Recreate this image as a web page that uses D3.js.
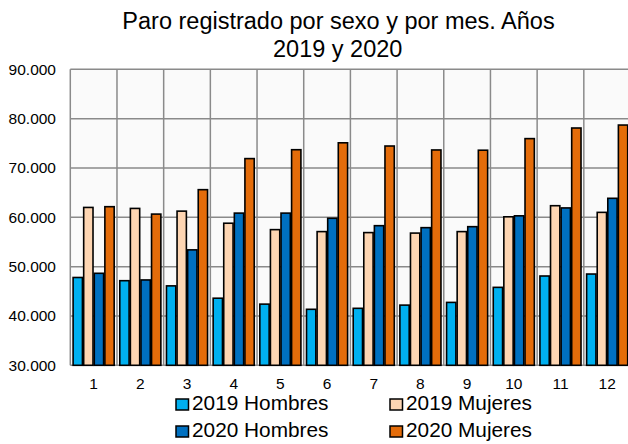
<!DOCTYPE html>
<html>
<head>
<meta charset="utf-8">
<script src="https://cdn.jsdelivr.net/npm/d3@7"></script>
<style>
  body { margin: 0; background: #fff; }
  svg { display: block; font-family: "Liberation Sans", Arial, sans-serif; }
</style>
</head>
<body>
<div id="chart"></div>
<script>
const width = 628;
const height = 444;

// Datos
const months = ["1", "2", "3", "4", "5", "6", "7", "8", "9", "10", "11", "12"];
const series = ["2019 Hombres", "2019 Mujeres", "2020 Hombres", "2020 Mujeres"];
const hombres2019 = [47800, 47150, 46100, 43600, 42400, 41350, 41550, 42200, 42750, 45800, 48100, 48500];
const mujeres2019 = [62000, 61800, 61250, 58800, 57500, 57100, 56900, 56800, 57100, 60100, 62350, 61000];
const hombres2020 = [48650, 47300, 53400, 60850, 60850, 59800, 58300, 57900, 58100, 60300, 61900, 63850];
const mujeres2020 = [62150, 60650, 65600, 71900, 73700, 75100, 74450, 73650, 73600, 75950, 78100, 78700];
const yTicks = [30000, 40000, 50000, 60000, 70000, 80000, 90000];
const colors = ["#00b0f0", "#fdd5b2", "#0070c0", "#e46c0a"];

const values = [hombres2019, mujeres2019, hombres2020, mujeres2020];
const rows = months.map((m, i) => ({ month: m, vals: values.map(v => v[i]) }));

const margin = { top: 69.3, right: -2.5, bottom: 78.7, left: 70.3 };

const es = d3.formatLocale({ decimal: ",", thousands: ".", grouping: [3], currency: ["", " €"] });
const fmt = es.format(",.0f");

const x0 = d3.scaleBand()
    .domain(months)
    .range([margin.left, width - margin.right])
    .paddingInner(0.12)
    .paddingOuter(0.06);

const x1 = d3.scaleBand()
    .domain(d3.range(series.length))
    .range([0, x0.bandwidth()])
    .paddingInner(0.12);

const y = d3.scaleLinear()
    .domain([30000, 90000])
    .range([height - margin.bottom, margin.top]);

const svg = d3.select("#chart")
    .append("svg")
    .attr("width", width)
    .attr("height", height)
    .attr("viewBox", [0, 0, width, height]);

// Fondo del área de trazado
svg.append("rect")
    .attr("x", margin.left)
    .attr("y", margin.top)
    .attr("width", width - margin.right - margin.left)
    .attr("height", y(30000) - margin.top)
    .attr("fill", "#fafafa");

// Cuadrícula horizontal
svg.append("g")
    .attr("stroke", "#8a8a8a")
    .attr("stroke-width", 1.5)
    .selectAll("line")
    .data(yTicks)
    .join("line")
    .attr("x1", margin.left)
    .attr("x2", width - margin.right)
    .attr("y1", d => y(d))
    .attr("y2", d => y(d));

// Cuadrícula vertical (límites de categoría)
const step = x0.step();
const bounds = d3.range(months.length + 1).map(i => x0.range()[0] + i * step);
svg.append("g")
    .attr("stroke", "#8a8a8a")
    .attr("stroke-width", 1.5)
    .selectAll("line")
    .data(bounds)
    .join("line")
    .attr("x1", d => d)
    .attr("x2", d => d)
    .attr("y1", margin.top)
    .attr("y2", y(30000));

// Barras
svg.append("g")
    .selectAll("g")
    .data(rows)
    .join("g")
    .attr("transform", d => `translate(${x0(d.month)},0)`)
    .selectAll("rect")
    .data(d => d.vals.map((v, k) => ({ k, v })))
    .join("rect")
    .attr("x", d => x1(d.k))
    .attr("y", d => y(d.v))
    .attr("width", x1.bandwidth())
    .attr("height", d => y(30000) - y(d.v))
    .attr("fill", d => colors[d.k])
    .attr("stroke", "#000")
    .attr("stroke-width", 1.6);

// Eje Y
svg.append("g")
    .selectAll("text")
    .data(yTicks)
    .join("text")
    .attr("x", 56)
    .attr("y", d => y(d) + 5.3)
    .attr("text-anchor", "end")
    .attr("font-size", 15.5)
    .attr("fill", "#000")
    .text(d => fmt(d));

// Eje X
svg.append("g")
    .selectAll("text")
    .data(months)
    .join("text")
    .attr("x", d => x0(d) + x0.bandwidth() / 2)
    .attr("y", 389)
    .attr("text-anchor", "middle")
    .attr("font-size", 15.5)
    .attr("fill", "#000")
    .text(d => d);

// Título
svg.append("text")
    .attr("text-anchor", "middle")
    .attr("font-size", 23.5)
    .attr("fill", "#000")
    .selectAll("tspan")
    .data([["Paro registrado por sexo y por mes. Años", 338.5, 28.5], ["2019 y 2020", 337.7, 56.5]])
    .join("tspan")
    .attr("x", d => d[1])
    .attr("y", d => d[2])
    .text(d => d[0]);

// Leyenda
const legend = svg.append("g")
    .selectAll("g")
    .data(series)
    .join("g")
    .attr("transform", (d, i) => `translate(${i % 2 ? 390 : 176},${i < 2 ? 399 : 426})`);

legend.append("rect")
    .attr("width", 12.5)
    .attr("height", 11)
    .attr("fill", (d, i) => colors[i])
    .attr("stroke", "#000")
    .attr("stroke-width", 1.5);

legend.append("text")
    .attr("x", 16)
    .attr("y", 11.3)
    .attr("font-size", 20.8)
    .attr("fill", "#000")
    .text(d => d);
</script>
</body>
</html>
